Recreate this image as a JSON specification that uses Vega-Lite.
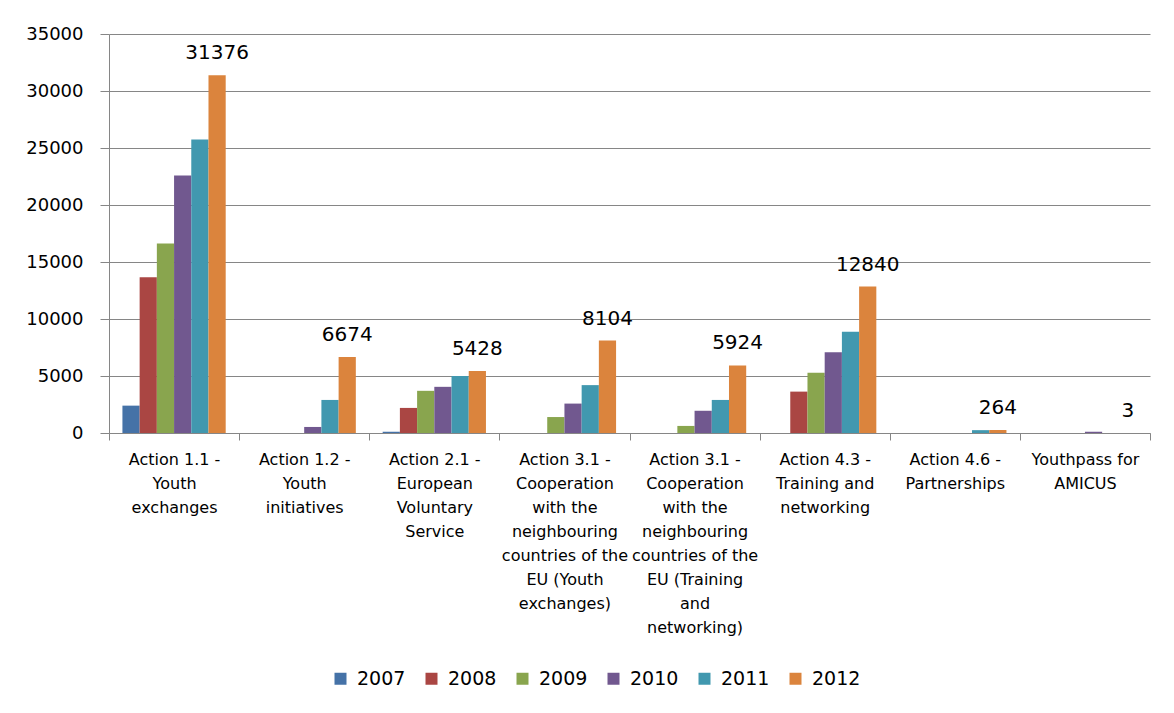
{
  "$schema": "https://vega.github.io/schema/vega-lite/v6.json",
  "width": 1041,
  "height": 399,
  "autosize": {"type": "none"},
  "padding": {"left": 109, "top": 34, "right": 24, "bottom": 280},
  "background": "white",
  "config": {
    "view": {"stroke": null},
    "font": "DejaVu Sans"
  },
  "data": {
    "values": [
      {"cat": "Action 1.1 -|Youth|exchanges", "year": "2007", "value": 2400},
      {"cat": "Action 1.1 -|Youth|exchanges", "year": "2008", "value": 13660},
      {"cat": "Action 1.1 -|Youth|exchanges", "year": "2009", "value": 16620},
      {"cat": "Action 1.1 -|Youth|exchanges", "year": "2010", "value": 22590},
      {"cat": "Action 1.1 -|Youth|exchanges", "year": "2011", "value": 25750},
      {"cat": "Action 1.1 -|Youth|exchanges", "year": "2012", "value": 31376},
      {"cat": "Action 1.2 -|Youth|initiatives", "year": "2007", "value": 0},
      {"cat": "Action 1.2 -|Youth|initiatives", "year": "2008", "value": 0},
      {"cat": "Action 1.2 -|Youth|initiatives", "year": "2009", "value": 0},
      {"cat": "Action 1.2 -|Youth|initiatives", "year": "2010", "value": 530},
      {"cat": "Action 1.2 -|Youth|initiatives", "year": "2011", "value": 2900},
      {"cat": "Action 1.2 -|Youth|initiatives", "year": "2012", "value": 6674},
      {"cat": "Action 2.1 -|European|Voluntary|Service", "year": "2007", "value": 110},
      {"cat": "Action 2.1 -|European|Voluntary|Service", "year": "2008", "value": 2200},
      {"cat": "Action 2.1 -|European|Voluntary|Service", "year": "2009", "value": 3700},
      {"cat": "Action 2.1 -|European|Voluntary|Service", "year": "2010", "value": 4050},
      {"cat": "Action 2.1 -|European|Voluntary|Service", "year": "2011", "value": 5000},
      {"cat": "Action 2.1 -|European|Voluntary|Service", "year": "2012", "value": 5428},
      {"cat": "Action 3.1 -|Cooperation|with the|neighbouring|countries of the|EU (Youth|exchanges)", "year": "2007", "value": 0},
      {"cat": "Action 3.1 -|Cooperation|with the|neighbouring|countries of the|EU (Youth|exchanges)", "year": "2008", "value": 0},
      {"cat": "Action 3.1 -|Cooperation|with the|neighbouring|countries of the|EU (Youth|exchanges)", "year": "2009", "value": 1400},
      {"cat": "Action 3.1 -|Cooperation|with the|neighbouring|countries of the|EU (Youth|exchanges)", "year": "2010", "value": 2580},
      {"cat": "Action 3.1 -|Cooperation|with the|neighbouring|countries of the|EU (Youth|exchanges)", "year": "2011", "value": 4200},
      {"cat": "Action 3.1 -|Cooperation|with the|neighbouring|countries of the|EU (Youth|exchanges)", "year": "2012", "value": 8104},
      {"cat": "Action 3.1 -|Cooperation|with the|neighbouring|countries of the|EU (Training|and|networking)", "year": "2007", "value": 0},
      {"cat": "Action 3.1 -|Cooperation|with the|neighbouring|countries of the|EU (Training|and|networking)", "year": "2008", "value": 0},
      {"cat": "Action 3.1 -|Cooperation|with the|neighbouring|countries of the|EU (Training|and|networking)", "year": "2009", "value": 620},
      {"cat": "Action 3.1 -|Cooperation|with the|neighbouring|countries of the|EU (Training|and|networking)", "year": "2010", "value": 1950},
      {"cat": "Action 3.1 -|Cooperation|with the|neighbouring|countries of the|EU (Training|and|networking)", "year": "2011", "value": 2900},
      {"cat": "Action 3.1 -|Cooperation|with the|neighbouring|countries of the|EU (Training|and|networking)", "year": "2012", "value": 5924},
      {"cat": "Action 4.3 -|Training and|networking", "year": "2007", "value": 0},
      {"cat": "Action 4.3 -|Training and|networking", "year": "2008", "value": 3630},
      {"cat": "Action 4.3 -|Training and|networking", "year": "2009", "value": 5290},
      {"cat": "Action 4.3 -|Training and|networking", "year": "2010", "value": 7080},
      {"cat": "Action 4.3 -|Training and|networking", "year": "2011", "value": 8890},
      {"cat": "Action 4.3 -|Training and|networking", "year": "2012", "value": 12840},
      {"cat": "Action 4.6 -|Partnerships", "year": "2007", "value": 0},
      {"cat": "Action 4.6 -|Partnerships", "year": "2008", "value": 0},
      {"cat": "Action 4.6 -|Partnerships", "year": "2009", "value": 0},
      {"cat": "Action 4.6 -|Partnerships", "year": "2010", "value": 0},
      {"cat": "Action 4.6 -|Partnerships", "year": "2011", "value": 250},
      {"cat": "Action 4.6 -|Partnerships", "year": "2012", "value": 264},
      {"cat": "Youthpass for|AMICUS", "year": "2007", "value": 0},
      {"cat": "Youthpass for|AMICUS", "year": "2008", "value": 0},
      {"cat": "Youthpass for|AMICUS", "year": "2009", "value": 0},
      {"cat": "Youthpass for|AMICUS", "year": "2010", "value": 110},
      {"cat": "Youthpass for|AMICUS", "year": "2011", "value": 0},
      {"cat": "Youthpass for|AMICUS", "year": "2012", "value": 3}
    ]
  },
  "encoding": {
    "x": {
      "field": "cat",
      "type": "nominal",
      "sort": null,
      "scale": {"paddingInner": 0, "paddingOuter": 0},
      "axis": {
        "title": null,
        "labelAngle": 0,
        "labelExpr": "split(datum.label, '|')",
        "labelFont": "DejaVu Sans",
        "labelFontSize": 16,
        "labelColor": "#000000",
        "labelLineHeight": 24,
        "labelBaseline": "top",
        "labelPadding": 11,
        "labelLimit": 400,
        "labelOverlap": false,
        "tickBand": "extent",
        "tickSize": 7,
        "tickColor": "#868686",
        "domainColor": "#868686",
        "grid": false
      }
    },
    "xOffset": {
      "field": "year",
      "type": "nominal",
      "scale": {"paddingInner": 0, "paddingOuter": 0.78}
    },
    "y": {
      "field": "value",
      "type": "quantitative",
      "scale": {"domain": [0, 35000], "nice": false},
      "axis": {
        "title": null,
        "values": [0, 5000, 10000, 15000, 20000, 25000, 30000, 35000],
        "format": "d",
        "labelFont": "DejaVu Sans",
        "labelFontSize": 18,
        "labelColor": "#000000",
        "labelPadding": 17,
        "tickSize": 9,
        "tickColor": "#868686",
        "domainColor": "#868686",
        "gridColor": "#868686",
        "gridWidth": 1
      }
    }
  },
  "layer": [
    {
      "mark": {"type": "bar"},
      "encoding": {
        "color": {
          "field": "year",
          "type": "nominal",
          "scale": {
            "domain": ["2007", "2008", "2009", "2010", "2011", "2012"],
            "range": ["#4572A7", "#AA4643", "#89A54E", "#71588F", "#4198AF", "#DB843D"]
          },
          "legend": {
            "title": null,
            "orient": "none",
            "direction": "horizontal",
            "legendX": 222,
            "legendY": 635,
            "padding": 0,
            "symbolType": "square",
            "symbolSize": 144,
            "symbolStrokeWidth": 0,
            "symbolOpacity": 1,
            "labelFont": "DejaVu Sans",
            "labelFontSize": 19,
            "labelColor": "#000000",
            "labelOffset": 7,
            "columnPadding": 16
          }
        }
      }
    },
    {
      "transform": [{"filter": "datum.year == '2012'"}],
      "mark": {
        "type": "text",
        "baseline": "alphabetic",
        "dy": -16,
        "font": "DejaVu Sans",
        "fontSize": 20,
        "color": "#000000"
      },
      "encoding": {
        "text": {"field": "value", "type": "quantitative", "format": "d"}
      }
    }
  ]
}
